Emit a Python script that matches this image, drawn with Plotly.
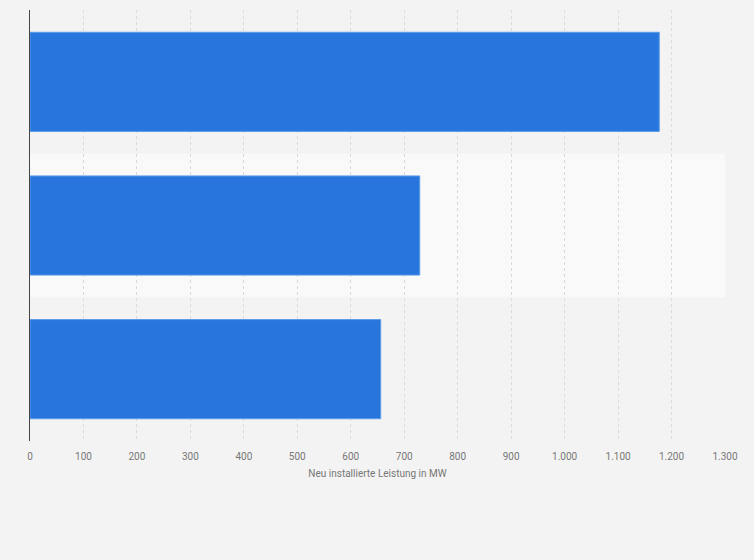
import plotly.graph_objects as go

categories = ["A", "B", "C"]
values = [1177, 729, 656]
tick_vals = list(range(0, 1400, 100))
tick_text = ["0", "100", "200", "300", "400", "500", "600", "700", "800", "900",
             "1.000", "1.100", "1.200", "1.300"]

fig = go.Figure()
fig.add_trace(go.Bar(
    y=categories, x=values, orientation="h",
    width=0.69,
    marker=dict(color="#2876dd", line=dict(color="#5a9be8", width=1)),
    hoverinfo="x",
))

# lighter band behind the middle category
fig.add_shape(type="rect", xref="paper", yref="y", x0=0, x1=1, y0=0.5, y1=1.5,
              fillcolor="#f9f9f9", line=dict(width=0), layer="below")

fig.update_layout(
    width=754, height=560,
    margin=dict(l=30, r=29, t=10, b=119),
    paper_bgcolor="#f3f3f3", plot_bgcolor="#f3f3f3",
    font=dict(family="Roboto, Arial, sans-serif", size=10, color="#666666"),
    showlegend=False,
    bargap=0.31,
)
fig.update_xaxes(
    range=[0, 1300], tickvals=tick_vals, ticktext=tick_text,
    showgrid=True, gridcolor="#dadada", griddash="dot", gridwidth=1,
    zeroline=False, showline=False,
    ticks="outside", ticklen=6, tickcolor="rgba(0,0,0,0)",
    tickfont=dict(size=10, color="#777777"),
    title=dict(text="Neu installierte Leistung in MW", font=dict(size=10, color="#777777"),
               standoff=8),
)
fig.update_yaxes(
    range=[2.5, -0.5], showticklabels=False, showgrid=False,
    showline=True, linecolor="#444444", linewidth=1.2, zeroline=False, ticks="",
)

fig.write_html("out.html", config={"displayModeBar": False},
               post_script="document.body.style.margin='0';")
